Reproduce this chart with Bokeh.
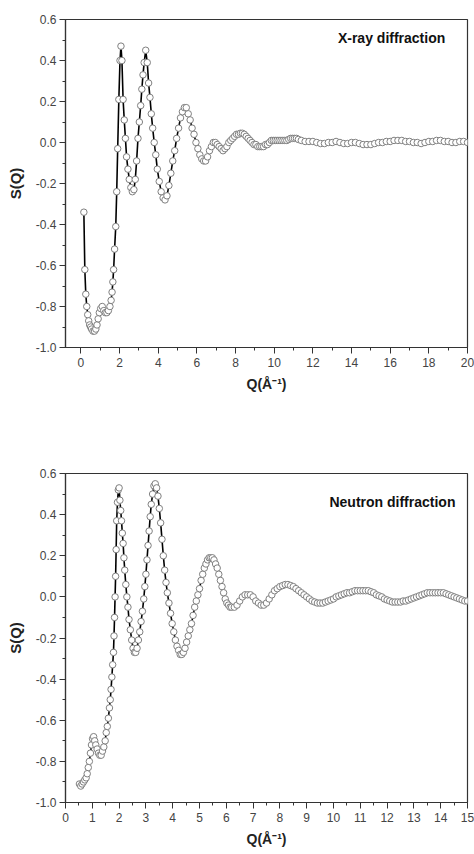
from bokeh.plotting import figure
from bokeh.layouts import column
from bokeh.models import FixedTicker, NumeralTickFormatter, Label, Range1d
from bokeh.embed import file_html
from bokeh.resources import INLINE

# ---------------- X-ray diffraction S(Q) ----------------
xray_q = [0.15, 0.20, 0.25, 0.30, 0.35, 0.40, 0.45, 0.50, 0.55, 0.62, 0.70, 0.77, 0.83, 0.89, 0.95,
          1.02, 1.10, 1.18, 1.26, 1.34, 1.42, 1.50, 1.56, 1.61, 1.65, 1.69, 1.74, 1.80, 1.85, 1.90,
          1.96, 2.02, 2.07, 2.12, 2.18, 2.24, 2.30, 2.36, 2.43, 2.50, 2.58, 2.66, 2.74, 2.81, 2.88,
          2.95, 3.02, 3.09, 3.15, 3.21, 3.27, 3.35, 3.43, 3.50, 3.57, 3.64, 3.71, 3.79, 3.87, 3.95,
          4.05, 4.15, 4.25, 4.35, 4.45, 4.55, 4.65, 4.75, 4.85, 4.95, 5.05, 5.15, 5.25, 5.35, 5.45,
          5.55, 5.65, 5.75, 5.85, 5.95, 6.05, 6.15, 6.25, 6.35, 6.45, 6.55, 6.65, 6.75, 6.85, 6.95,
          7.05, 7.15, 7.25, 7.35, 7.45, 7.55, 7.65, 7.75, 7.85, 7.95, 8.05, 8.15, 8.25, 8.35, 8.45,
          8.55, 8.65, 8.75, 8.85, 8.95, 9.05, 9.15, 9.25, 9.35, 9.45, 9.55, 9.65, 9.75, 9.85, 9.95,
          10.05, 10.15, 10.25, 10.35, 10.45, 10.55, 10.65, 10.75, 10.85, 10.95, 11.05, 11.15, 11.25,
          11.4, 11.6, 11.8, 12.0, 12.2, 12.4, 12.6, 12.8, 13.0, 13.2, 13.4, 13.6, 13.8, 14.0, 14.2,
          14.4, 14.6, 14.8, 15.0, 15.2, 15.4, 15.6, 15.8, 16.0, 16.2, 16.4, 16.6, 16.8, 17.0, 17.2,
          17.4, 17.6, 17.8, 18.0, 18.2, 18.4, 18.6, 18.8, 19.0, 19.2, 19.4, 19.6, 19.8, 20.0]
xray_s = [-0.34, -0.62, -0.74, -0.80, -0.84, -0.87, -0.89, -0.90, -0.91, -0.92, -0.92, -0.91, -0.89, -0.86, -0.83,
          -0.81, -0.80, -0.82, -0.83, -0.83, -0.82, -0.80, -0.77, -0.73, -0.68, -0.62, -0.52, -0.41, -0.24, -0.03,
          0.21, 0.40, 0.47, 0.40, 0.21, 0.11, 0.02, -0.07, -0.13, -0.18, -0.22, -0.24, -0.23, -0.18, -0.09,
          0.02, 0.10, 0.18, 0.26, 0.33, 0.39, 0.45, 0.39, 0.29, 0.22, 0.14, 0.07, 0.00, -0.06, -0.13,
          -0.19, -0.24, -0.27, -0.28, -0.26, -0.21, -0.15, -0.09, -0.04, 0.02, 0.07, 0.12, 0.15, 0.17, 0.17,
          0.14, 0.11, 0.07, 0.04, 0.00, -0.03, -0.06, -0.08, -0.09, -0.09, -0.07, -0.04, -0.02, 0.00, 0.00,
          -0.01, -0.02, -0.03, -0.04, -0.03, -0.02, 0.00, 0.01, 0.02, 0.03, 0.04, 0.04, 0.045, 0.045, 0.04,
          0.03, 0.02, 0.01, 0.00, -0.01, -0.01, -0.02, -0.02, -0.02, -0.02, -0.01, -0.01, 0.00, 0.01, 0.01,
          0.01, 0.01, 0.01, 0.01, 0.01, 0.01, 0.01, 0.015, 0.02, 0.02, 0.02, 0.02, 0.015,
          0.01, 0.005, 0.005, 0.005, 0.0, -0.005, -0.005, 0.0, 0.0, 0.005, 0.0, -0.005, -0.005, 0.0, 0.0,
          -0.005, -0.01, -0.01, -0.01, -0.005, 0.0, 0.0, 0.005, 0.005, 0.01, 0.01, 0.01, 0.005, 0.005, 0.0,
          0.0, -0.005, 0.0, 0.005, 0.005, 0.01, 0.01, 0.005, 0.005, 0.0, 0.0, 0.005, 0.005, 0.0]

# ---------------- Neutron diffraction S(Q) ----------------
neut_q = [0.52, 0.57, 0.62, 0.67, 0.72, 0.77, 0.81, 0.85, 0.89, 0.93, 0.97, 1.01, 1.05, 1.09, 1.13,
          1.18, 1.23, 1.28, 1.33, 1.38, 1.43, 1.48, 1.52, 1.56, 1.60, 1.64, 1.67, 1.70, 1.73, 1.76,
          1.79, 1.81, 1.83, 1.85, 1.87, 1.89, 1.91, 1.94, 1.97, 2.00, 2.03, 2.06, 2.09, 2.12, 2.15,
          2.18, 2.21, 2.25, 2.29, 2.33, 2.37, 2.42, 2.47, 2.52, 2.57, 2.62, 2.67, 2.72, 2.77, 2.82,
          2.87, 2.92, 2.96, 3.00, 3.04, 3.08, 3.12, 3.16, 3.20, 3.25, 3.30, 3.35, 3.40, 3.45, 3.50,
          3.55, 3.60, 3.65, 3.70, 3.75, 3.80, 3.86, 3.92, 3.98, 4.04, 4.10, 4.16, 4.22, 4.28, 4.34,
          4.40, 4.46, 4.52, 4.58, 4.64, 4.70, 4.76, 4.82, 4.88, 4.94, 5.00, 5.06, 5.12, 5.18, 5.24,
          5.30, 5.36, 5.42, 5.48, 5.54, 5.60, 5.66, 5.72, 5.78, 5.84, 5.90, 5.96, 6.02, 6.08, 6.14,
          6.20, 6.30, 6.40, 6.50, 6.60, 6.70, 6.80, 6.90, 7.00, 7.10, 7.20, 7.30, 7.40, 7.50, 7.60,
          7.70, 7.80, 7.90, 8.00, 8.10, 8.20, 8.30, 8.40, 8.50, 8.60, 8.70, 8.80, 8.90, 9.00, 9.10,
          9.20, 9.30, 9.40, 9.50, 9.60, 9.70, 9.80, 9.90, 10.0, 10.1, 10.2, 10.3, 10.4, 10.5, 10.6,
          10.7, 10.8, 10.9, 11.0, 11.1, 11.2, 11.3, 11.4, 11.5, 11.6, 11.7, 11.8, 11.9, 12.0, 12.1,
          12.2, 12.3, 12.4, 12.5, 12.6, 12.7, 12.8, 12.9, 13.0, 13.1, 13.2, 13.3, 13.4, 13.5, 13.6,
          13.7, 13.8, 13.9, 14.0, 14.1, 14.2, 14.3, 14.4, 14.5, 14.6, 14.7, 14.8, 14.9, 15.0]
neut_s = [-0.91, -0.92, -0.91, -0.90, -0.89, -0.88, -0.86, -0.83, -0.80, -0.76, -0.72, -0.69, -0.68, -0.70, -0.72,
          -0.74, -0.76, -0.77, -0.77, -0.75, -0.73, -0.70, -0.66, -0.63, -0.59, -0.54, -0.50, -0.45, -0.39, -0.33,
          -0.27, -0.19, -0.10, 0.00, 0.10, 0.23, 0.37, 0.46, 0.52, 0.53, 0.47, 0.42, 0.37, 0.31, 0.26,
          0.19, 0.13, 0.06, 0.00, -0.05, -0.11, -0.16, -0.21, -0.25, -0.27, -0.27, -0.25, -0.21, -0.17, -0.12,
          -0.07, -0.01, 0.05, 0.11, 0.18, 0.25, 0.32, 0.39, 0.45, 0.50, 0.54, 0.55, 0.53, 0.49, 0.43,
          0.36, 0.28, 0.20, 0.13, 0.07, 0.02, -0.03, -0.08, -0.13, -0.17, -0.21, -0.24, -0.26, -0.28, -0.28,
          -0.27, -0.25, -0.22, -0.19, -0.16, -0.13, -0.09, -0.05, -0.02, 0.01, 0.04, 0.08, 0.11, 0.14, 0.16,
          0.18, 0.19, 0.19, 0.19, 0.18, 0.16, 0.14, 0.11, 0.08, 0.05, 0.02, -0.01, -0.03, -0.04, -0.05,
          -0.05, -0.05, -0.04, -0.02, 0.00, 0.01, 0.01, 0.01, 0.00, -0.02, -0.03, -0.04, -0.04, -0.03, -0.01,
          0.01, 0.03, 0.04, 0.05, 0.055, 0.06, 0.06, 0.055, 0.05, 0.04, 0.03, 0.02, 0.01, 0.00, -0.01,
          -0.02, -0.025, -0.03, -0.03, -0.03, -0.025, -0.02, -0.015, -0.01, 0.00, 0.005, 0.01, 0.015, 0.02, 0.02,
          0.025, 0.03, 0.03, 0.03, 0.03, 0.03, 0.03, 0.025, 0.02, 0.01, 0.005, 0.0, -0.01, -0.015, -0.02,
          -0.025, -0.025, -0.025, -0.025, -0.02, -0.02, -0.015, -0.01, -0.005, 0.0, 0.005, 0.01, 0.015, 0.02, 0.02,
          0.02, 0.02, 0.02, 0.02, 0.02, 0.015, 0.01, 0.005, 0.0, -0.005, -0.01, -0.015, -0.02, -0.02]

# ---------------- ticks ----------------
y_major = [-1.0, -0.8, -0.6, -0.4, -0.2, 0.0, 0.2, 0.4, 0.6]
y_minor = [-0.9, -0.7, -0.5, -0.3, -0.1, 0.1, 0.3, 0.5]
xray_x_major = [0, 2, 4, 6, 8, 10, 12, 14, 16, 18, 20]
xray_x_minor = [1, 3, 5, 7, 9, 11, 13, 15, 17, 19]
neut_x_major = [0, 1, 2, 3, 4, 5, 6, 7, 8, 9, 10, 11, 12, 13, 14, 15]
neut_x_minor = [0.5, 1.5, 2.5, 3.5, 4.5, 5.5, 6.5, 7.5, 8.5, 9.5, 10.5, 11.5, 12.5, 13.5, 14.5]

FONT = "Liberation Sans"
TICK_COLOR = "#444444"


def make_fig(q, s, x_range, x_major, x_minor, title, title_x, title_y, height, borders):
    top, bottom, left, right = borders
    p = figure(width=474, height=height, output_backend="svg", toolbar_location=None,
               x_range=Range1d(*x_range), y_range=Range1d(-1.0, 0.6),
               min_border_top=top, min_border_bottom=bottom,
               min_border_left=left, min_border_right=right)
    p.grid.visible = False
    p.outline_line_color = "#333333"
    p.outline_line_width = 1.2
    p.background_fill_color = "white"
    p.border_fill_color = "white"

    p.xaxis.ticker = FixedTicker(ticks=x_major, minor_ticks=x_minor)
    p.yaxis.ticker = FixedTicker(ticks=y_major, minor_ticks=y_minor)
    p.yaxis.formatter = NumeralTickFormatter(format="0.0")
    for ax in (p.xaxis[0], p.yaxis[0]):
        ax.axis_line_color = "#333333"
        ax.axis_line_width = 1.2
        ax.major_tick_line_color = "#333333"
        ax.minor_tick_line_color = "#333333"
        ax.major_tick_in = 0
        ax.major_tick_out = 6
        ax.minor_tick_in = 0
        ax.minor_tick_out = 3
        ax.major_label_text_font = FONT
        ax.major_label_text_font_size = "12px"
        ax.major_label_text_color = TICK_COLOR
        ax.axis_label_text_font = FONT
        ax.axis_label_text_font_style = "bold"
        ax.axis_label_text_font_size = "15px"
        ax.axis_label_text_color = "#222222"
    p.xaxis.axis_label = "Q(Å⁻¹)"
    p.yaxis.axis_label = "S(Q)"
    p.xaxis.axis_label_text_font_size = "14px"
    p.xaxis.major_label_standoff = 4
    p.yaxis.major_label_standoff = 3
    p.xaxis.axis_label_standoff = 6
    p.yaxis.axis_label_standoff = 9

    p.line(q, s, line_color="black", line_width=1.6)
    p.scatter(q, s, marker="circle", size=6.5, fill_color="white",
              line_color="#808080", line_width=1)

    p.add_layout(Label(x=title_x, y=title_y, text=title, text_align="right",
                       text_baseline="middle", text_font=FONT, text_font_style="bold",
                       text_font_size="14px", text_color="#111111"))
    return p


p1 = make_fig(xray_q, xray_s, (-0.8, 20), xray_x_major, xray_x_minor,
              "X-ray diffraction", 18.85, 0.51, 410, (19, 63, 63, 7))
p2 = make_fig(neut_q, neut_s, (0, 15), neut_x_major, neut_x_minor,
              "Neutron diffraction", 14.55, 0.46, 442, (63, 50, 65, 7))

layout = column(p1, p2, spacing=0)
open("out.html", "w").write(file_html(layout, INLINE))
